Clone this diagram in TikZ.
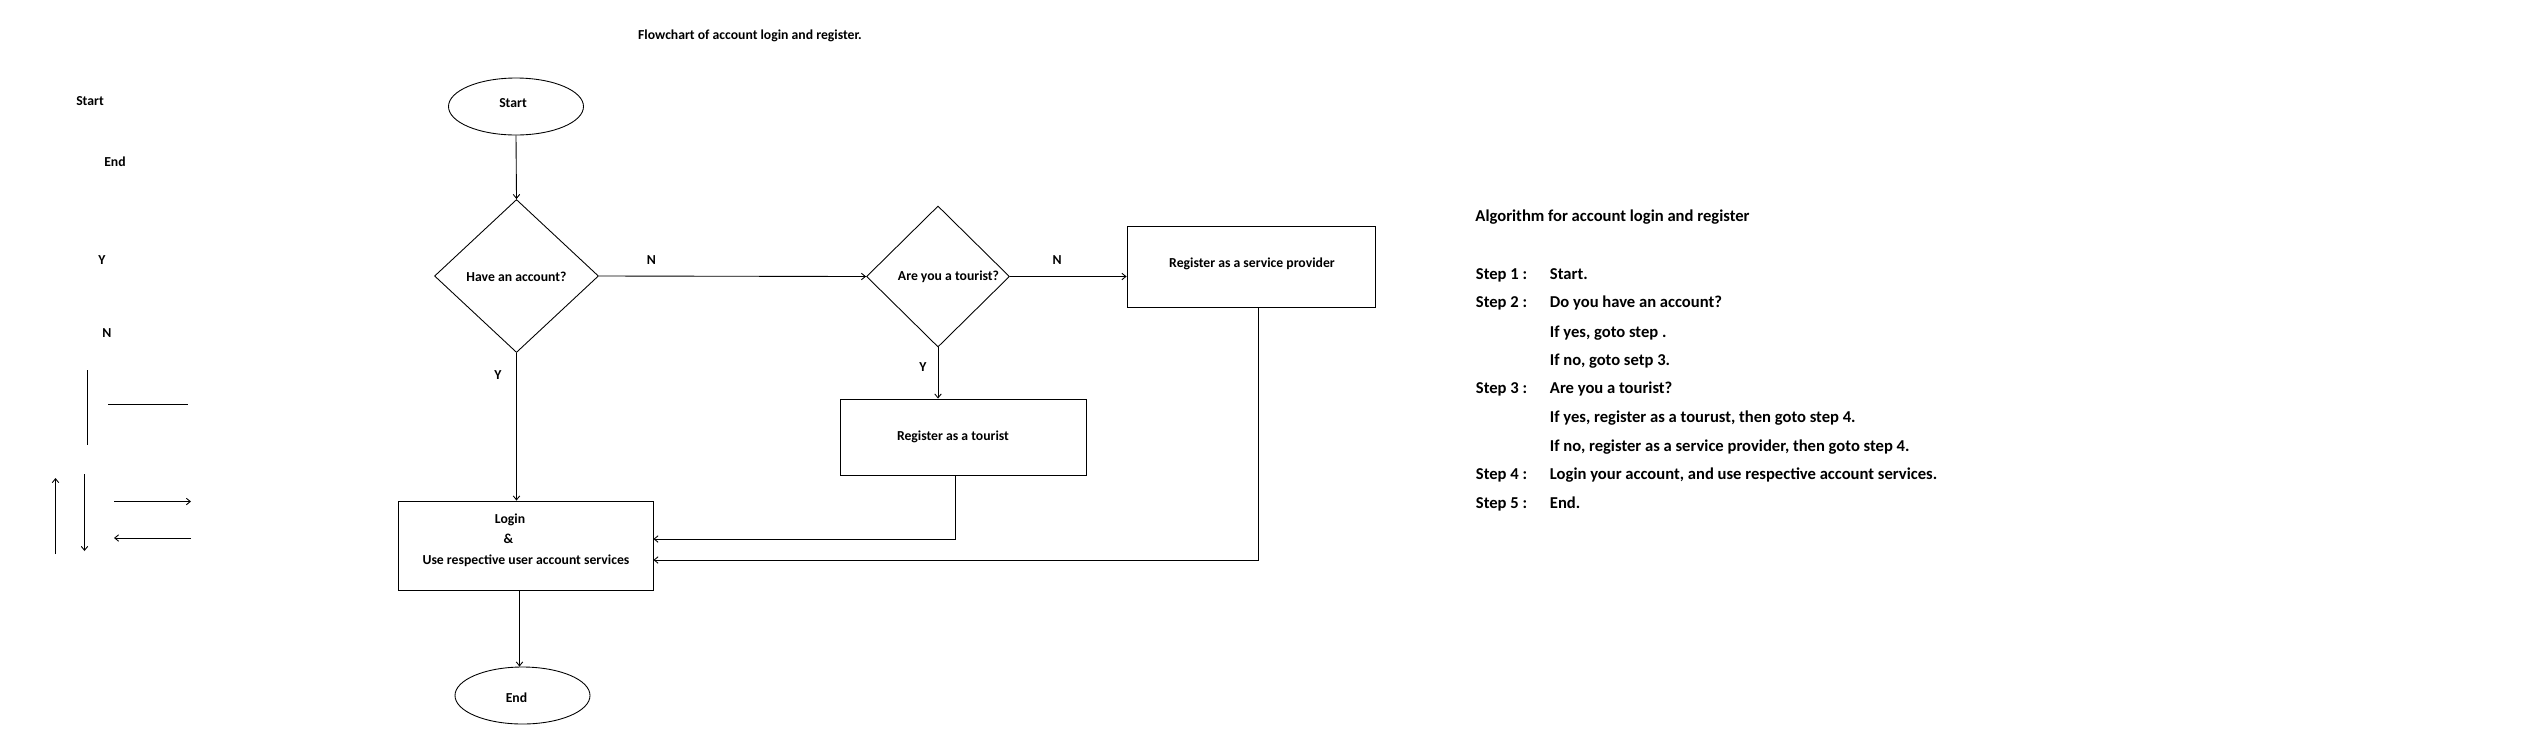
\documentclass[tikz,border=0pt]{standalone}
\usepackage{fontspec}
\setmainfont{Carlito}
\usepackage{tikz}
\usetikzlibrary{arrows.meta,shapes.geometric}

\tikzset{
  lbl/.style={font=\bfseries\fontsize{7.8}{9}\selectfont, inner sep=0pt, text height=0.64em, text depth=0pt},
  algo/.style={font=\bfseries\fontsize{9.45}{11}\selectfont, inner sep=0pt, text height=0.64em, text depth=0pt, anchor=west},
  term/.style={ellipse, draw, line width=0.5pt, minimum width=2.7cm, minimum height=1.14cm, lbl},
  decision/.style={diamond, draw, line width=0.5pt, lbl},
  procbox/.style={rectangle, draw, line width=0.5pt, lbl},
}

\begin{document}
\begin{tikzpicture}[>={Straight Barb[length=0.8mm,width=1.3mm]}, line width=0.5pt]
			\useasboundingbox (0,0) rectangle (50.72,-14.68);

			\node[lbl] (title) at (15.0,-0.68) {Flowchart of account login and register.};

			% left column
			\node[lbl] (keystart) at (1.8,-2.0) {Start};
			\node[lbl] (keyend) at (2.3,-3.22) {End};
			\node[lbl] (keyy) at (2.04,-5.18) {Y};
			\node[lbl] (keyn) at (2.14,-6.64) {N};
			\draw (1.74,-7.4) -- (1.74,-8.9);
			\draw (2.16,-8.08) -- (3.76,-8.08);
			\draw[->] (1.11,-11.08) -- (1.11,-9.56);
			\draw[->] (1.69,-9.48) -- (1.69,-11.02);
			\draw[->] (2.28,-10.03) -- (3.82,-10.03);
			\draw[->] (3.82,-10.76) -- (2.28,-10.76);

			% flowchart
			\node[term] (start) at (10.32,-2.13) {};
			\node[lbl] (starttxt) at (10.26,-2.04) {Start};
			\node[decision, minimum width=3.28cm, minimum height=3.06cm] (account) at (10.33,-5.52) {Have an account?};
			\node[decision, minimum width=2.86cm, minimum height=2.82cm] (tourist) at (18.76,-5.53) {};
			\node[lbl] (touristtxt) at (18.97,-5.5) {Are you a tourist?};
			\node[procbox, minimum width=4.96cm, minimum height=1.62cm] (provider) at (25.02,-5.33) {};
			\node[lbl] (providertxt) at (25.04,-5.24) {Register as a service provider};
			\node[procbox, minimum width=4.92cm, minimum height=1.52cm] (regtourist) at (19.26,-8.74) {};
			\node[lbl] (regtouristtxt) at (19.06,-8.70) {Register as a tourist};
			\node[procbox, minimum width=5.10cm, minimum height=1.78cm] (login) at (10.51,-10.91) {};
			\node[lbl] (logintxt) at (10.2,-10.36) {Login};
			\node[lbl] (andtxt) at (10.17,-10.76) {\&};
			\node[lbl] (usetxt) at (10.52,-11.18) {Use respective user account services};
			\node[term] (end) at (10.45,-13.91) {};
			\node[lbl] (endtxt) at (10.33,-13.94) {End};

			\node[lbl] (n1) at (13.03,-5.18) {N};
			\node[lbl] (y1) at (9.96,-7.48) {Y};
			\node[lbl] (n2) at (21.14,-5.18) {N};
			\node[lbl] (y2) at (18.46,-7.31) {Y};

			\draw[->] (start.south) -- (account.north);
			\draw[->] (account.east) -- (tourist.west);
			\draw[->] (tourist.east) -- (tourist.east -| provider.west);
			\draw[->] (tourist.south) -- (tourist.south |- regtourist.north);
			\draw[->] (account.south) -- (account.south |- login.north);
			\draw[->] ([xshift=-0.15cm]regtourist.south) |- ([yshift=0.13cm]login.east);
			\draw[->] ([xshift=0.14cm]provider.south) |- ([yshift=-0.29cm]login.east);
			\draw[->] ([xshift=-0.06cm]end.north |- login.south) -- ([xshift=-0.06cm]end.north);

			% algorithm
			\node[algo] (algtitle) at (29.5,-4.32) {Algorithm for account login and register};
			\node[algo] (s1) at (29.51,-5.48) {Step 1 :};
			\node[algo] (s1a) at (30.99,-5.48) {Start.};
			\node[algo] (s2) at (29.51,-6.04) {Step 2 :};
			\node[algo] (s2a) at (30.99,-6.04) {Do you have an account?};
			\node[algo] (s2b) at (30.99,-6.63) {If yes, goto step .};
			\node[algo] (s2c) at (30.99,-7.2) {If no, goto setp 3.};
			\node[algo] (s3) at (29.51,-7.76) {Step 3 :};
			\node[algo] (s3a) at (30.99,-7.76) {Are you a tourist?};
			\node[algo] (s3b) at (30.99,-8.34) {If yes, register as a tourust, then goto step 4.};
			\node[algo] (s3c) at (30.99,-8.91) {If no, register as a service provider, then goto step 4.};
			\node[algo] (s4) at (29.51,-9.48) {Step 4 :};
			\node[algo] (s4a) at (30.99,-9.48) {Login your account, and use respective account services.};
			\node[algo] (s5) at (29.51,-10.05) {Step 5 :};
			\node[algo] (s5a) at (30.99,-10.05) {End.};
		\end{tikzpicture}
\end{document}
